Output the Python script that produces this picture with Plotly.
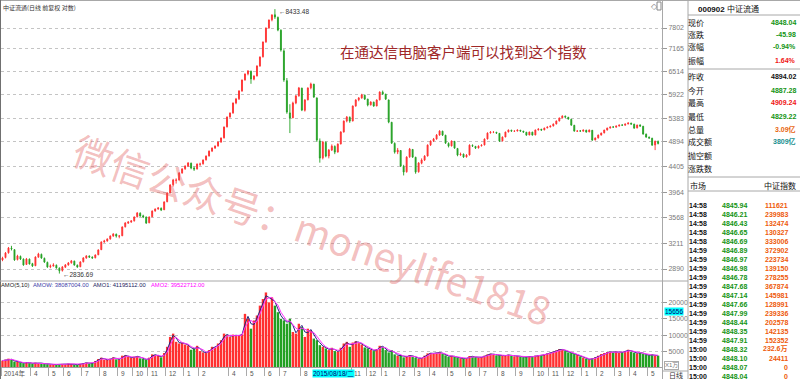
import numpy as np
import pandas as pd
import plotly.graph_objects as go

W, H = 800, 379

# ---------------- data (each bar ~3 trading days, Feb 2014 - May 2017) ----------------
opens = [3000,3030,3090,3150,3130,3005,3045,3010,2945,3010,
 2955,2930,3035,3070,3020,2970,2918,2925,2935,2900,
 2872,2912,2940,2965,2985,2935,2918,2978,3025,3048,
 3035,3028,3065,3130,3232,3245,3272,3312,3335,3308,
 3315,3440,3492,3510,3525,3585,3638,3598,3578,3498,
 3585,3672,3702,3712,3690,3815,3958,4090,4165,4172,
 4295,4368,4420,4470,4380,4366,4450,4458,4532,4606,
 4700,4760,4800,4880,4962,5192,5410,5500,5730,5828,
 6020,6300,6460,6530,6320,6405,6675,6930,7370,7805,
 8070,8240,8150,7730,7100,6280,5500,5390,5730,5900,
 6090,5560,5805,6098,6190,5850,4900,4570,4870,4605,
 4720,4790,4680,4840,5085,5320,5400,5320,5660,5805,
 5850,5915,5820,5685,5748,5660,5805,5990,5940,5800,
 5290,4850,4680,4710,4410,4315,4590,4730,4580,4315,
 4470,4530,4605,4820,4900,4940,5020,5100,5015,4850,
 4800,4890,4750,4625,4640,4588,4625,4810,4790,4760,
 4800,4820,4940,5065,5080,5078,5055,4900,4980,5085,
 5120,5100,5105,5120,5100,5078,5022,5080,5022,5128,
 5140,5128,5170,5190,5212,5255,5320,5388,5425,5400,
 5355,5225,5100,5105,5100,5120,5085,5120,4920,4960,
 5020,5065,5125,5168,5190,5186,5210,5232,5228,5255,
 5272,5250,5170,5232,5205,5038,4975,4955,4820,4887.28]

highs = [3040,3100,3165,3180,3135,3065,3055,3020,3025,3018,
 2965,3045,3090,3080,3030,2980,2945,2960,2945,2910,
 2925,2950,2975,3000,2992,2945,2985,3035,3060,3058,
 3045,3070,3135,3240,3260,3280,3320,3350,3345,3325,
 3445,3505,3520,3535,3590,3655,3650,3615,3590,3590,
 3680,3710,3730,3725,3820,3965,4100,4190,4200,4310,
 4380,4430,4490,4480,4410,4465,4480,4540,4615,4710,
 4770,4810,4890,4970,5200,5420,5510,5740,5850,6040,
 6310,6470,6560,6545,6420,6690,6940,7380,7820,8080,
 8260,8433.48,8180,7760,7150,6350,5700,5760,5920,6120,
 6100,5820,6110,6230,6200,5860,4950,4900,4890,4740,
 4830,4810,4850,5100,5330,5430,5420,5670,5820,5870,
 5950,5930,5830,5770,5760,5815,6010,6030,5950,5810,
 5300,4870,4760,4720,4440,4600,4760,4740,4590,4490,
 4560,4620,4830,4910,4960,5040,5120,5110,5025,4870,
 4910,4900,4760,4670,4650,4640,4830,4830,4800,4810,
 4830,4950,5075,5100,5095,5085,5060,4990,5090,5135,
 5130,5115,5135,5128,5108,5085,5090,5088,5135,5160,
 5150,5175,5200,5220,5265,5330,5395,5445,5440,5410,
 5365,5235,5120,5125,5135,5130,5135,5125,4970,5030,
 5070,5130,5175,5200,5205,5220,5240,5245,5265,5290,
 5280,5258,5240,5245,5212,5050,4990,4962,4905,4909.24]

lows = [2985,3020,3080,3120,2990,2995,3000,2930,2940,2945,
 2915,2925,3030,3015,2965,2905,2900,2920,2895,2836.69,
 2860,2905,2930,2955,2930,2905,2912,2970,3015,3025,
 3015,3020,3060,3125,3220,3235,3262,3300,3290,3280,
 3310,3430,3480,3495,3515,3575,3585,3565,3480,3490,
 3578,3660,3690,3670,3685,3805,3950,4060,4110,4160,
 4280,4350,4400,4360,4330,4355,4420,4445,4520,4595,
 4680,4740,4785,4860,4950,5180,5390,5480,5700,5800,
 6000,6280,6420,6200,6290,6390,6650,6910,7340,7780,
 8020,8100,7700,7080,6250,5480,5061,5380,5700,5880,
 5540,5530,5790,6060,5850,4880,4480,4540,4580,4560,
 4700,4640,4670,4830,5070,5290,5280,5310,5640,5770,
 5830,5800,5650,5670,5640,5650,5790,5920,5800,5270,
 4840,4650,4640,4400,4250,4300,4570,4570,4280,4300,
 4450,4510,4595,4800,4880,4925,5005,5000,4840,4770,
 4790,4745,4600,4610,4570,4575,4615,4780,4740,4750,
 4790,4810,4930,5050,5060,5045,4880,4890,4975,5075,
 5090,5085,5095,5090,5070,5005,5015,5010,5015,5115,
 5110,5120,5160,5180,5200,5245,5310,5375,5390,5350,
 5215,5090,5085,5090,5095,5070,5080,4900,4910,4950,
 5010,5055,5115,5155,5170,5178,5200,5210,5220,5245,
 5240,5150,5160,5195,5030,4965,4945,4800,4718,4829.22]

closes = [3025,3088,3152,3139,3000,3050,3012,2939,3012,2951,
 2927,3037,3075,3025,2975,2915,2927,2939,2903,2870,
 2915,2939,2963,2988,2939,2915,2975,3025,3050,3037,
 3025,3062,3126,3230,3244,3270,3311,3339,3311,3311,
 3437,3494,3508,3523,3581,3640,3596,3581,3494,3581,
 3670,3700,3716,3686,3810,3953,4085,4170,4170,4292,
 4364,4418,4473,4382,4364,4454,4454,4529,4603,4698,
 4757,4796,4876,4958,5188,5406,5496,5728,5824,6019,
 6298,6456,6536,6324,6403,6673,6924,7366,7802,8064,
 8232,8164,7738,7127,6298,5519,5384,5728,5896,6094,
 5564,5800,6094,6195,5872,4917,4565,4876,4603,4718,
 4796,4679,4836,5082,5318,5406,5318,5658,5800,5848,
 5921,5824,5681,5752,5658,5800,5994,5945,5824,5296,
 4856,4679,4718,4418,4310,4584,4737,4584,4310,4473,
 4529,4603,4816,4897,4938,5019,5103,5019,4856,4796,
 4897,4757,4622,4641,4584,4622,4816,4796,4757,4796,
 4816,4938,5061,5082,5082,5061,4897,4978,5082,5124,
 5103,5103,5124,5103,5082,5019,5082,5019,5124,5145,
 5124,5166,5188,5209,5252,5318,5384,5428,5406,5362,
 5230,5103,5103,5103,5124,5082,5124,4917,4958,5019,
 5061,5124,5166,5188,5188,5209,5230,5230,5252,5274,
 5252,5166,5230,5209,5040,4978,4958,4816,4894.02,4848.04]

# 成交额 (axis units x1万)
amounts = [2300,2600,2900,2500,2000,1900,1700,1500,1800,1600,
 1400,1700,1600,1500,1300,1200,1100,1200,1000,1100,
 1300,1200,1400,1300,1100,1000,1300,1500,1700,1400,
 1600,2200,2800,3200,2600,2500,2900,3300,2700,2600,
 3800,3900,3400,3100,3500,3700,3000,2800,2500,3200,
 4200,4000,3700,3300,4600,6500,9500,10500,8000,7500,
 7800,7200,6900,5600,6000,6800,5200,4800,4600,5500,
 6500,6300,7500,8500,10500,10000,9500,10200,9800,10000,
 10300,16500,15000,12000,14500,16000,19000,21000,23000,20000,
 21500,19000,17000,15000,14500,13500,15000,11000,10500,13500,
 12500,9500,12000,11500,9000,8500,7000,6500,6000,5500,
 6200,5200,5000,6200,7500,8000,6500,7800,8200,7600,
 7200,6300,6000,5600,5200,5800,6800,6500,5500,4800,
 5500,4200,3800,4000,3300,3600,4000,3500,3200,2900,
 3100,3800,4500,4600,4400,4700,4800,4300,3900,3500,
 3800,3400,3200,3000,2900,3100,3700,3500,3300,3200,
 3400,3800,4200,4400,4100,3900,4000,3700,3900,4100,
 3800,3600,3700,3500,3300,3400,3600,3400,3800,4000,
 3900,4200,4500,4700,5000,5400,5800,5600,5200,4800,
 4600,4300,4000,3600,3200,2800,2600,3000,3300,3800,
 4300,4600,4900,5000,4800,5100,4700,4900,5200,5600,
 5000,4700,4500,4900,4300,4000,3900,4200,3800,3808.7]

price_ticks = [7802, 7165, 6514, 5922, 5383, 4894, 4405, 3964, 3568, 3211, 2890]
amount_ticks = [20000, 15000, 10000, 5000]
month_labels = ["2014年","4","5","6","7","8","9","10","11","12","1","2","4","5","6","7","8",
                "11","12","1","2","3","4","5","6","7","8","9","10","11","12","1","2","3","4","5"]
month_start = [0,10,16,21,27,33,39,44,49,55,61,66,76,82,88,93,100,
               117,122,127,133,138,143,149,155,160,166,172,178,183,188,194,199,205,210,216]

info_labels = ["现价","涨跌","涨幅","振幅","昨收","今开","最高","最低","总量","成交额","抛空额","涨跌数"]
info_values = ["4848.04","-45.98","-0.94%","1.64%","4894.02","4887.28","4909.24","4829.22","3.09亿","3809亿","",""]
info_kinds = ["dn","dn","dn","up","flat","dn","up","dn","vol","amt","",""]

trade_times = ["14:58"]*5 + ["14:59"]*11 + ["15:00"]*4
trade_prices = ["4845.94","4846.21","4846.43","4846.65","4846.69","4846.89","4846.97","4846.98",
                "4846.78","4847.68","4847.14","4847.66","4847.99","4848.44","4848.35","4847.91",
                "4848.32","4848.10","4848.07","4848.04"]
trade_vols = ["111621","239983","132474","130327","333006","372902","223734","139150","278255",
              "367874","145981","128991","239336","202578","142135","152352","232.6万","24411","0","0"]

amo_header = ["AMO(5,10)", "AMOW: 38087004.00", "AMO1: 41195112.00", "AMO2: 39522712.00"]

# ---------------- styling ----------------
RED = "#ff3030"
GREEN = "#22a022"
FONT = "Liberation Sans, Noto Sans CJK SC"
CJK = "Noto Sans CJK SC"
kind_color = {"dn": "#139413", "up": "#f01414", "flat": "#111111", "vol": "#e8650f", "amt": "#178f8f", "": "#000"}

N = len(closes)
xs = list(range(N))
xr = [-0.5, N + 0.3]
dom_x = [1 / W, 662 / W]

fig = go.Figure()
fig.add_trace(go.Candlestick(
    x=xs, open=opens, high=highs, low=lows, close=closes,
    increasing=dict(line=dict(color=RED, width=0.9), fillcolor=RED),
    decreasing=dict(line=dict(color=GREEN, width=0.9), fillcolor=GREEN),
    whiskerwidth=0, xaxis="x", yaxis="y", hoverinfo="skip"))

vol_colors = [RED if c >= o else GREEN for o, c in zip(opens, closes)]
fig.add_trace(go.Bar(x=xs, y=amounts, marker=dict(color=vol_colors, line=dict(width=0)),
                     xaxis="x2", yaxis="y2", hoverinfo="skip"))
s = pd.Series(amounts)
ma_fast = s.rolling(2, min_periods=1).mean()
ma_slow = s.rolling(3, min_periods=1).mean()
fig.add_trace(go.Scatter(x=xs, y=ma_fast, mode="lines", line=dict(color="#26267e", width=1),
                         xaxis="x2", yaxis="y2", hoverinfo="skip"))
fig.add_trace(go.Scatter(x=xs, y=ma_slow, mode="lines", line=dict(color="#ff33ff", width=1),
                         xaxis="x2", yaxis="y2", hoverinfo="skip"))

annots = []
def T(x, y, s, size=7, color="#000", anchor="left", family=FONT, **kw):
    d = dict(x=x / W, y=1 - y / H, xref="paper", yref="paper", text=s, showarrow=False,
             xanchor=anchor, yanchor="middle", font=dict(size=size, color=color, family=family),
             borderpad=0)
    d.update(kw)
    annots.append(d)

# headers
T(2, 8, "中证流通(日线 前复权 对数)", size=6, color="#333", family=CJK)
for txt, xx, col in zip(amo_header, [0, 32, 92, 150], ["#222", "#3c3ca8", "#1c1c60", "#ff00ff"]):
    T(xx, 285, txt, size=5.8, color=col)
T(650, 6, "◇", size=8, color="#888", family="DejaVu Sans")

# overlay texts
T(339, 51, "在通达信电脑客户端可以找到这个指数", size=14.5, color="#a02828", family=CJK)
annots.append(dict(x=313 / W, y=1 - 229 / H, xref="paper", yref="paper",
                   text="微信公众号：moneylife1818", showarrow=False, textangle=19,
                   xanchor="center", yanchor="middle",
                   font=dict(size=39, color="rgba(225,90,90,0.40)", family=CJK)))

# extreme labels
i_hi = int(np.argmax(highs)); i_lo = int(np.argmin(lows))
annots.append(dict(x=i_hi + 0.6, y=np.log10(highs[i_hi]), xref="x", yref="y", text="←%.2f" % highs[i_hi],
                   showarrow=False, xanchor="left", yanchor="middle", yshift=-2,
                   font=dict(size=6.5, color="#333", family=FONT)))
annots.append(dict(x=i_lo + 0.6, y=np.log10(lows[i_lo]), xref="x", yref="y", text="←%.2f" % lows[i_lo],
                   showarrow=False, xanchor="left", yanchor="middle", yshift=-1,
                   font=dict(size=6.5, color="#333", family=FONT)))

# month labels
for lab, m in zip(month_labels, month_start):
    annots.append(dict(x=m - 0.1, y=1 - 373 / H, xref="x2", yref="paper", text=lab, showarrow=False,
                       xanchor="left", yanchor="middle", font=dict(size=6.5, color="#555", family=FONT)))

# cursor labels
T(312, 373, "2015/08/18/二", size=6.5, color="#000070", bgcolor="#00ffff")
annots.append(dict(x=674 / W, y=15656, xref="paper", yref="y2", text="15656", showarrow=False,
                   xanchor="center", yanchor="middle", bgcolor="#00ffff", borderpad=0, yshift=5,
                   font=dict(size=6.5, color="#000070", family=FONT)))
T(664, 365, "X1万", size=6, color="#777", bordercolor="#aaa", borderwidth=1)
T(668, 375, "日线", size=7, color="#333", family=CJK)

# right info panel
T(697, 9, "<b>000902</b> 中证流通", size=8, color="#111")
info_y = [22, 34, 47, 60, 77, 90, 103, 116, 129, 142, 155, 168]
for lab, val, kind, yy in zip(info_labels, info_values, info_kinds, info_y):
    T(687, yy, lab, size=8, color="#111", family=CJK)
    if val:
        T(797, yy, "<b>%s</b>" % val, size=7, color=kind_color[kind], anchor="right")
T(689, 185, "市场", size=8, color="#111", family=CJK)
T(797, 185, "中证指数", size=8, color="#111", family=CJK, anchor="right")
for k, (t, p, v) in enumerate(zip(trade_times, trade_prices, trade_vols)):
    yy = 205 + 9 * k
    T(688, yy, "<b>%s</b>" % t, size=7, color="#111")
    T(748, yy, "<b>%s</b>" % p, size=7, color="#139413", anchor="right")
    T(789, yy, "<b>%s</b>" % v, size=7, color="#ee5a0a", anchor="right")

shapes = []
def L(x0, y0, x1, y1, color="#a8a8a8", w=1):
    shapes.append(dict(type="line", xref="paper", yref="paper", x0=x0 / W, y0=1 - y0 / H,
                       x1=x1 / W, y1=1 - y1 / H, line=dict(color=color, width=w)))
L(0, 0.5, 800, 0.5)
L(0.5, 0, 0.5, 379, "#707070")
L(662.5, 0, 662.5, 379)
L(688, 0, 688, 379)
L(0, 281, 688, 281)
for yy in (15, 69, 177, 191):
    L(688, yy, 800, yy)
L(662, 371, 688, 371)
shapes.append(dict(type="rect", xref="paper", yref="paper", x0=657 / W, x1=661 / W,
                   y0=1 - 10 / H, y1=1 - 2 / H, line=dict(color="#888", width=1)))

axis_font = dict(size=7, color="#7a7a7a", family=FONT)
fig.update_layout(
    width=W, height=H, margin=dict(l=0, r=0, t=0, b=0), template="none",
    paper_bgcolor="white", plot_bgcolor="white", showlegend=False, bargap=0.2, boxgap=0.55,
    font=dict(family=FONT, size=7, color="#333"),
    xaxis=dict(domain=dom_x, range=xr, showticklabels=False, showgrid=False, zeroline=False,
               rangeslider=dict(visible=False), anchor="y", showline=False, ticks=""),
    yaxis=dict(domain=[1 - 281 / H, 1 - 3 / H], type="log", range=[3.4395, 3.9370], side="right",
               tickvals=price_ticks, ticktext=[str(v) for v in price_ticks],
               showgrid=True, gridcolor="#c4c4c4", griddash="dot", gridwidth=1,
               ticks="outside", ticklen=4, tickcolor="#999", tickfont=axis_font,
               zeroline=False, showline=False, anchor="x"),
    xaxis2=dict(domain=dom_x, range=xr, matches="x", anchor="y2", showticklabels=False,
                showgrid=False, zeroline=False, showline=True, linecolor="#a0a0a0",
                ticks="outside", tickvals=[m - 0.5 for m in month_start], ticklen=8,
                tickcolor="#aaaaaa"),
    yaxis2=dict(domain=[1 - 367 / H, 1 - 283 / H], range=[364, 25870], side="right",
                tickvals=amount_ticks, ticktext=[str(v) for v in amount_ticks],
                showgrid=True, gridcolor="#c4c4c4", griddash="dot", gridwidth=1,
                ticks="outside", ticklen=4, tickcolor="#999", tickfont=axis_font,
                zeroline=False, showline=False, anchor="x2"),
    annotations=annots, shapes=shapes,
)

fig.write_html("out.html")
